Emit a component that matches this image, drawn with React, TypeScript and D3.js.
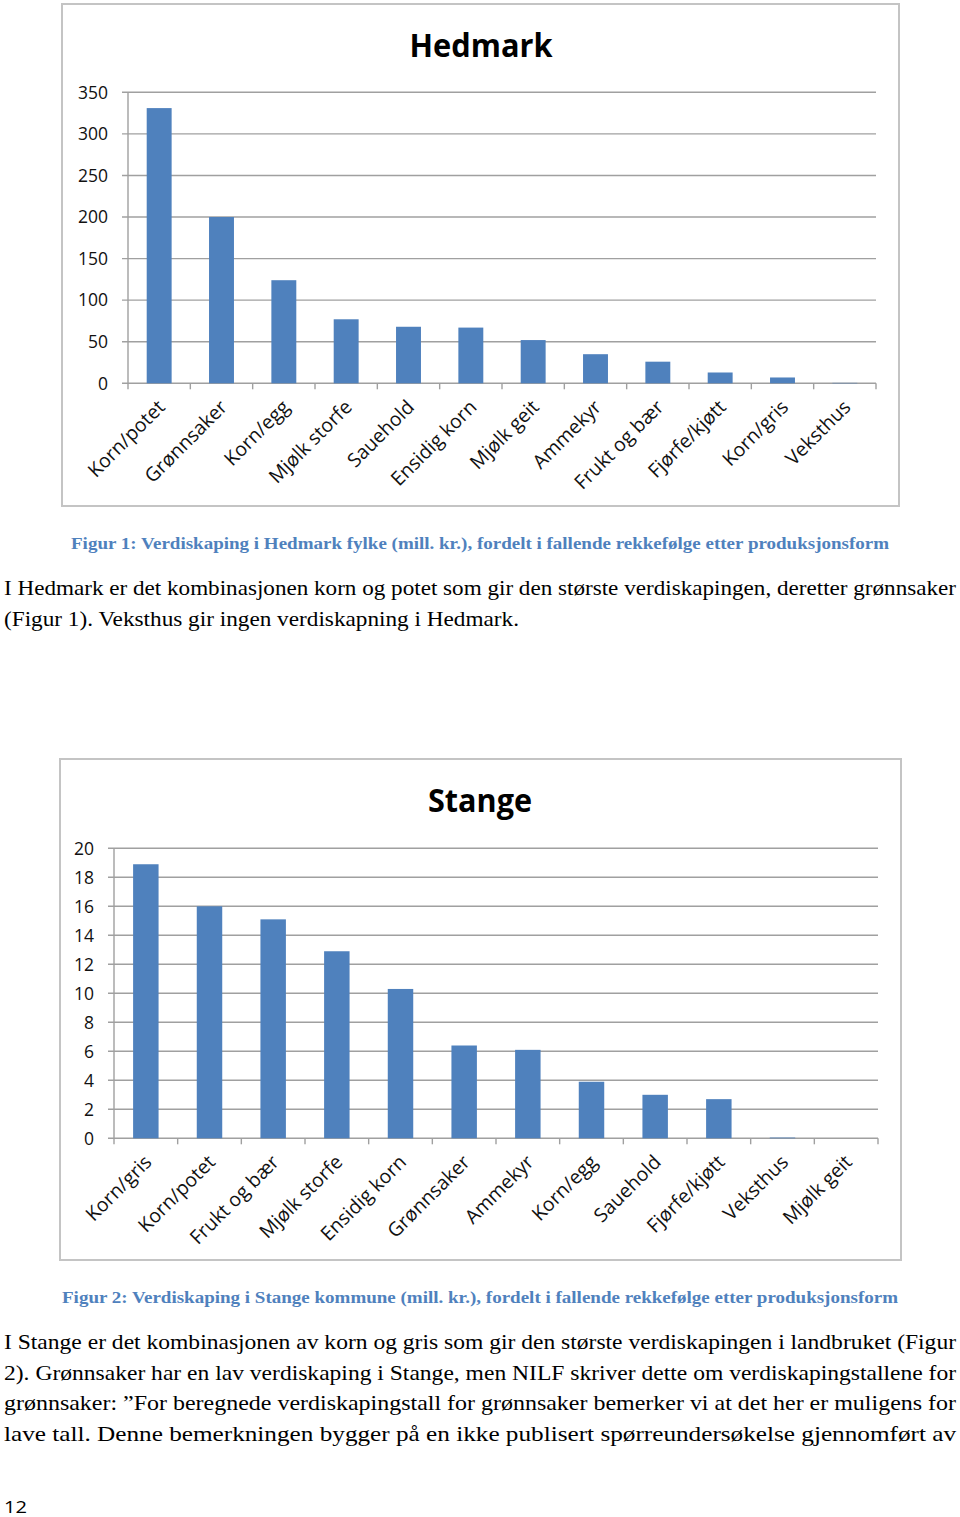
import React, { useEffect, useRef } from 'react';
import * as d3 from 'd3';

// Hedmark fylke, mill. kr.
const hedmarkCategories = ['Korn/potet', 'Grønnsaker', 'Korn/egg', 'Mjølk storfe', 'Sauehold', 'Ensidig korn', 'Mjølk geit', 'Ammekyr', 'Frukt og bær', 'Fjørfe/kjøtt', 'Korn/gris', 'Veksthus'];
const hedmarkValues = [331, 200, 124, 77, 68, 67, 52, 35, 26, 13, 7, 0.5];
const hedmarkTicks = [0, 50, 100, 150, 200, 250, 300, 350];

// Stange kommune, mill. kr.
const stangeCategories = ['Korn/gris', 'Korn/potet', 'Frukt og bær', 'Mjølk storfe', 'Ensidig korn', 'Grønnsaker', 'Ammekyr', 'Korn/egg', 'Sauehold', 'Fjørfe/kjøtt', 'Veksthus', 'Mjølk geit'];
const stangeValues = [18.9, 16.0, 15.1, 12.9, 10.3, 6.4, 6.1, 3.9, 3.0, 2.7, 0.05, 0];
const stangeTicks = [0, 2, 4, 6, 8, 10, 12, 14, 16, 18, 20];

const caption1 = 'Figur 1: Verdiskaping i Hedmark fylke (mill. kr.), fordelt i fallende rekkefølge etter produksjonsform';
const caption2 = 'Figur 2: Verdiskaping i Stange kommune (mill. kr.), fordelt i fallende rekkefølge etter produksjonsform';
const para1 = [
  'I Hedmark er det kombinasjonen korn og potet som gir den største verdiskapingen, deretter grønnsaker',
  '(Figur 1). Veksthus gir ingen verdiskapning i Hedmark.',
];
const para2 = [
  'I Stange er det kombinasjonen av korn og gris som gir den største verdiskapingen i landbruket (Figur',
  '2). Grønnsaker har en lav verdiskaping i Stange, men NILF skriver dette om verdiskapingstallene for',
  'grønnsaker: ”For beregnede verdiskapingstall for grønnsaker bemerker vi at det her er muligens for',
  'lave tall. Denne bemerkningen bygger på en ikke publisert spørreundersøkelse gjennomført av',
];

const BAR = '#4f81bd';
const GRID = '#a0a0a0';
const SANS = '"Open Sans", "Noto Sans", sans-serif';
const SERIF = '"Liberation Serif", "DejaVu Serif", serif';

function drawChart(svg, o) {
  const g = svg.append('g');

  g.append('rect')
    .attr('x', o.frame[0]).attr('y', o.frame[1])
    .attr('width', o.frame[2] - o.frame[0]).attr('height', o.frame[3] - o.frame[1])
    .attr('fill', '#fff').attr('stroke', '#c4c4c4').attr('stroke-width', 2);

  g.append('text')
    .attr('x', o.titleX).attr('y', o.titleY)
    .attr('text-anchor', 'middle')
    .attr('font-family', SANS).attr('font-weight', 'bold').attr('font-size', 32)
    .attr('textLength', o.titleW).attr('lengthAdjust', 'spacingAndGlyphs')
    .text(o.title);

  const y = d3.scaleLinear().domain([0, d3.max(o.ticks)]).range([o.bottom, o.top]);
  const x = d3.scaleBand().domain(o.categories).range([o.left, o.right])
    .paddingInner(0.6).paddingOuter(0.3);

  // gridlines + y ticks
  g.selectAll('.grid').data(o.ticks).enter().append('line')
    .attr('x1', o.left - 6).attr('x2', o.right)
    .attr('y1', d => y(d)).attr('y2', d => y(d))
    .attr('stroke', GRID).attr('stroke-width', 1.4);

  g.selectAll('.ylab').data(o.ticks).enter().append('text')
    .attr('x', o.left - 20).attr('y', d => y(d))
    .attr('dy', '0.36em').attr('text-anchor', 'end')
    .attr('font-family', SANS).attr('font-size', 17.5).attr('fill', '#111')
    .text(d => d);

  // y axis line
  g.append('line')
    .attr('x1', o.left).attr('x2', o.left).attr('y1', o.top).attr('y2', o.bottom)
    .attr('stroke', GRID).attr('stroke-width', 1.4);

  // x tick marks at category boundaries
  const step = x.step();
  const bounds = d3.range(o.categories.length + 1).map(i => o.left + i * step);
  g.selectAll('.xtick').data(bounds).enter().append('line')
    .attr('x1', d => d).attr('x2', d => d)
    .attr('y1', o.bottom).attr('y2', o.bottom + 6)
    .attr('stroke', GRID).attr('stroke-width', 1.4);

  g.selectAll('.bar').data(o.values).enter().append('rect')
    .attr('x', (d, i) => x(o.categories[i]))
    .attr('y', d => y(d))
    .attr('width', x.bandwidth())
    .attr('height', d => o.bottom - y(d))
    .attr('fill', BAR);

  g.selectAll('.xlab').data(o.categories).enter().append('text')
    .attr('transform', d => `translate(${x(d) + x.bandwidth() / 2 + 7},${o.bottom + 25}) rotate(-45)`)
    .attr('text-anchor', 'end')
    .attr('font-family', SANS).attr('font-size', 19.5).attr('fill', '#111')
    .text(d => d);
}

function drawText(svg, lines, x, y0, lh, w, size) {
  svg.selectAll(null).data(lines).enter().append('text')
    .attr('x', x).attr('y', (d, i) => y0 + i * lh)
    .attr('font-family', SERIF).attr('font-size', size).attr('fill', '#000')
    .attr('textLength', (d, i) => w[i]).attr('lengthAdjust', 'spacingAndGlyphs')
    .text(d => d);
}

export default function App() {
  const ref = useRef(null);

  useEffect(() => {
    const svg = d3.select(ref.current);
    svg.selectAll('*').remove();

    drawChart(svg, {
      frame: [62, 4, 899, 506],
      title: 'Hedmark', titleX: 481, titleY: 57, titleW: 143,
      categories: hedmarkCategories, values: hedmarkValues, ticks: hedmarkTicks,
      left: 128, right: 876, top: 92.3, bottom: 383.3,
    });

    svg.append('text')
      .attr('x', 480).attr('y', 549).attr('text-anchor', 'middle')
      .attr('font-family', SERIF).attr('font-weight', 'bold').attr('font-size', 17.5)
      .attr('fill', '#4f81bd')
      .attr('textLength', 818).attr('lengthAdjust', 'spacingAndGlyphs')
      .text(caption1);

    drawText(svg, para1, 4, 595, 30.5, [952, 515], 21.5);

    drawChart(svg, {
      frame: [60, 759, 901, 1260],
      title: 'Stange', titleX: 480, titleY: 812, titleW: 104,
      categories: stangeCategories, values: stangeValues, ticks: stangeTicks,
      left: 114, right: 878, top: 848.3, bottom: 1138.3,
    });

    svg.append('text')
      .attr('x', 480).attr('y', 1303).attr('text-anchor', 'middle')
      .attr('font-family', SERIF).attr('font-weight', 'bold').attr('font-size', 17.5)
      .attr('fill', '#4f81bd')
      .attr('textLength', 836).attr('lengthAdjust', 'spacingAndGlyphs')
      .text(caption2);

    drawText(svg, para2, 4, 1349, 30.5, [952, 952, 952, 952], 21.5);

    svg.append('text')
      .attr('x', 4).attr('y', 1513)
      .attr('font-family', SANS).attr('font-size', 17)
      .attr('textLength', 23).attr('lengthAdjust', 'spacingAndGlyphs')
      .text('12');
  }, []);

  return (
    <svg ref={ref} width={960} height={1517}
      style={{ position: 'absolute', left: 0, top: 0, background: '#fff' }} />
  );
}
